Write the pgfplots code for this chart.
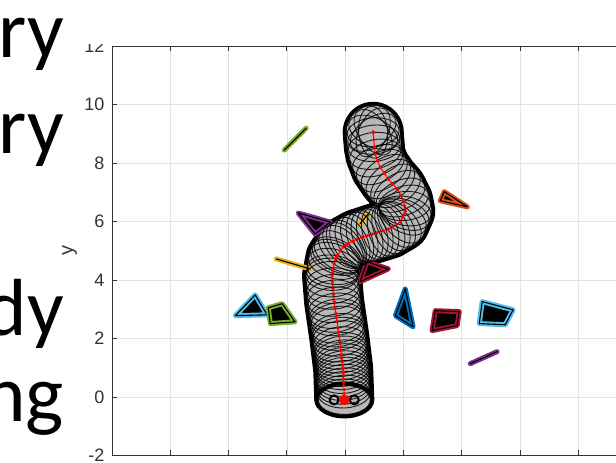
\documentclass[border=0pt]{standalone}
\usepackage{fontspec}
\setmainfont{Liberation Sans}
\newfontfamily\carlito{Carlito}
\usepackage{pgfplots}
\pgfplotsset{compat=1.18}
\usepackage{pgfplotstable}
\usetikzlibrary{shapes.geometric}

\definecolor{mblue}{rgb}{0,0.447,0.741}
\definecolor{morange}{rgb}{0.851,0.325,0.098}
\definecolor{myellow}{rgb}{0.929,0.694,0.125}
\definecolor{mpurple}{rgb}{0.494,0.184,0.557}
\definecolor{mgreen}{rgb}{0.466,0.674,0.188}
\definecolor{mcyan}{rgb}{0.301,0.745,0.933}
\definecolor{mred}{rgb}{0.635,0.078,0.184}
\definecolor{tubegray}{gray}{0.72}

% centre line of the swept path
\pgfplotstableread{
x y
-0.03 -0.10
-0.07 0.97
-0.21 2.10
-0.38 3.26
-0.45 4.14
-0.34 4.72
-0.07 5.13
0.41 5.40
0.93 5.57
1.48 5.74
1.89 5.98
2.06 6.36
1.99 6.70
1.78 7.11
1.48 7.45
1.20 7.86
1.03 8.30
0.96 9.05
}\pathtab

% robot poses (x, y, rotation of the ellipse in degrees)
\pgfplotstableread{
x y r
-0.03 -0.10 0
-0.04 0.12 2
-0.04 0.25 4
-0.05 0.38 4
-0.05 0.50 4
-0.06 0.62 4
-0.06 0.75 4
-0.07 0.86 5
-0.07 0.97 5
-0.09 1.08 6
-0.10 1.20 7
-0.12 1.32 7
-0.13 1.45 7
-0.15 1.58 7
-0.16 1.70 7
-0.19 1.90 7
-0.21 2.10 8
-0.23 2.22 8
-0.25 2.35 8
-0.28 2.60 8
-0.30 2.72 8
-0.32 2.85 8
-0.35 3.05 7
-0.38 3.26 6
-0.40 3.50 5
-0.42 3.70 5
-0.44 3.92 3
-0.45 4.14 0
-0.44 4.25 -4
-0.42 4.35 -8
-0.38 4.55 -15
-0.34 4.72 -22
-0.30 4.80 -26
-0.25 4.86 -30
-0.16 5.00 -40
-0.07 5.13 -48
0.02 5.19 -53
0.10 5.24 -58
0.25 5.32 -63
0.41 5.40 -68
0.58 5.46 -72
0.75 5.51 -72
0.93 5.57 -73
1.10 5.62 -73
1.30 5.68 -73
1.48 5.74 -68
1.62 5.82 -62
1.76 5.90 -55
1.89 5.98 -45
1.97 6.15 -30
2.02 6.25 -20
2.06 6.36 -10
2.04 6.53 5
1.99 6.70 18
1.90 6.90 25
1.78 7.11 33
1.63 7.28 40
1.48 7.45 38
1.34 7.65 34
1.20 7.86 28
1.11 8.08 20
1.03 8.30 12
1.00 8.55 5
0.98 8.80 5
0.96 9.05 5
0.96 9.05 35
0.96 9.05 65
0.96 9.05 95
0.96 9.05 125
0.96 9.05 155
}\posetab

\begin{document}
\begin{tikzpicture}
\useasboundingbox (0pt,0pt) rectangle (616pt,463pt);
\begin{scope}[every node/.style={anchor=base east, inner sep=0pt, font={\carlito\fontsize{81}{81}\selectfont}}]
\node at (64pt,405pt) {ry};
\node at (64pt,309pt) {ry};
\node at (64pt,127pt) {dy};
\node at (64pt,41pt) {ng};
\end{scope}
\begin{scope}
\clip (0pt,0pt) rectangle (616pt,418pt);
\begin{axis}[
  at={(112pt,7.5pt)}, anchor=south west,
  x=29.15pt, y=29.25pt,
  xmin=-8, xmax=12, ymin=-2, ymax=12,
  xtick={-8,-6,...,12}, ytick={-2,0,...,12},
  xticklabels={},
  grid=major, grid style={black!11, line width=0.7pt},
  axis line style={black!80, line width=0.9pt},
  tick style={black!80, line width=0.9pt},
  major tick length=5pt,
  tick align=inside,
  /pgf/number format/assume math mode=true,
  ticklabel style={font=\fontsize{18}{20}\selectfont, text=black!80},
  yticklabel style={xshift=-4pt},
  ylabel={y},
  every axis y label/.style={at={(axis description cs:-0.0725,0.5)}, rotate=90, anchor=center, font=\fontsize{20}{22}\selectfont, text=black!80},
  clip=false,
]
% --- black envelope of the swept robot
\addplot[black, line width=60pt, line cap=butt, line join=round] table[x=x,y=y] {\pathtab};
\addplot[black, line width=61pt, line cap=round] coordinates {(1.00,8.55) (0.96,9.05)};
\addplot[only marks, mark=none, nodes near coords={}, nodes near coords align={center},
  every node near coord/.append style={anchor=center, ellipse, fill=black, draw=none, minimum width=60pt, minimum height=37pt, inner sep=0pt}]
  coordinates {(-0.03,-0.10)};
% --- grey interior
\addplot[tubegray, line width=52pt, line cap=butt, line join=round] table[x=x,y=y] {\pathtab};
\addplot[tubegray, line width=53pt, line cap=round] coordinates {(1.00,8.55) (0.96,9.05)};
\addplot[only marks, mark=none, nodes near coords={}, nodes near coords align={center},
  every node near coord/.append style={anchor=center, ellipse, fill=tubegray, draw=none, minimum width=52pt, minimum height=29pt, inner sep=0pt}]
  coordinates {(-0.03,-0.10)};
% --- individual robot poses
\addplot[only marks, mark=none, nodes near coords={}, nodes near coords align={center},
  visualization depends on={\thisrow{r}\as\rot},
  every node near coord/.append style={anchor=center, ellipse, draw=black, draw opacity=0.85, line width=0.9pt, minimum width=52pt, minimum height=29pt, inner sep=0pt, rotate=\rot}]
  table[x=x,y=y] {\posetab};
% --- wheels at the start
\addplot[only marks, mark=o, mark size=4.5pt, black, line width=2pt] coordinates {(-0.38,-0.10) (0.31,-0.10)};
% --- centre path
\addplot[red, line width=1pt, mark=*, mark size=1.1pt] table[x=x,y=y] {\posetab};
\addplot[only marks, red, mark=*, mark size=5pt] coordinates {(-0.03,-0.10)};
% --- obstacles
\pgfplotsset{obs/.style={draw=#1, line width=5pt, fill=black, line join=round, line cap=round},
             obsin/.style={draw=black, line width=1.1pt, line join=round, line cap=round}}
\addplot[obs=mgreen] coordinates {(-2.09,8.44) (-1.34,9.19)};
\addplot[obsin] coordinates {(-2.09,8.44) (-1.34,9.19)};
\addplot[obs=mpurple] coordinates {(-1.61,6.29) (-0.51,5.98) (-1.03,5.57)} -- cycle;
\addplot[obsin] coordinates {(-1.61,6.29) (-0.51,5.98) (-1.03,5.57)} -- cycle;
\addplot[obs=myellow] coordinates {(0.51,5.92) (0.79,6.26)};
\addplot[obsin] coordinates {(0.51,5.92) (0.79,6.26)};
\addplot[obs=myellow] coordinates {(-2.37,4.72) (-1.20,4.38)};
\addplot[obsin] coordinates {(-2.37,4.72) (-1.20,4.38)};
\addplot[obs=morange] coordinates {(3.26,6.71) (3.40,7.02) (4.19,6.50)} -- cycle;
\addplot[obsin] coordinates {(3.26,6.71) (3.40,7.02) (4.19,6.50)} -- cycle;
\addplot[obs=mred] coordinates {(0.51,3.94) (0.75,4.62) (1.48,4.38)} -- cycle;
\addplot[obsin] coordinates {(0.51,3.94) (0.75,4.62) (1.48,4.38)} -- cycle;
\addplot[obs=mcyan] coordinates {(-3.77,2.78) (-3.09,3.49) (-2.68,2.81)} -- cycle;
\addplot[obsin] coordinates {(-3.77,2.78) (-3.09,3.49) (-2.68,2.81)} -- cycle;
\addplot[obs=mgreen] coordinates {(-2.64,3.05) (-2.16,3.19) (-1.72,2.57) (-2.57,2.51)} -- cycle;
\addplot[obsin] coordinates {(-2.64,3.05) (-2.16,3.19) (-1.72,2.57) (-2.57,2.51)} -- cycle;
\addplot[obs=mblue] coordinates {(2.06,3.70) (1.72,2.78) (2.33,2.40)} -- cycle;
\addplot[obsin] coordinates {(2.06,3.70) (1.72,2.78) (2.33,2.40)} -- cycle;
\addplot[obs=mred] coordinates {(3.09,2.95) (3.91,2.92) (3.84,2.44) (2.98,2.27)} -- cycle;
\addplot[obsin] coordinates {(3.09,2.95) (3.91,2.92) (3.84,2.44) (2.98,2.27)} -- cycle;
\addplot[obs=mcyan] coordinates {(4.70,3.26) (5.76,2.98) (5.49,2.47) (4.60,2.51)} -- cycle;
\addplot[obsin] coordinates {(4.70,3.26) (5.76,2.98) (5.49,2.47) (4.60,2.51)} -- cycle;
\addplot[obs=mpurple] coordinates {(4.29,1.14) (5.21,1.55)};
\addplot[obsin] coordinates {(4.29,1.14) (5.21,1.55)};
\end{axis}
\end{scope}
\end{tikzpicture}
\end{document}
